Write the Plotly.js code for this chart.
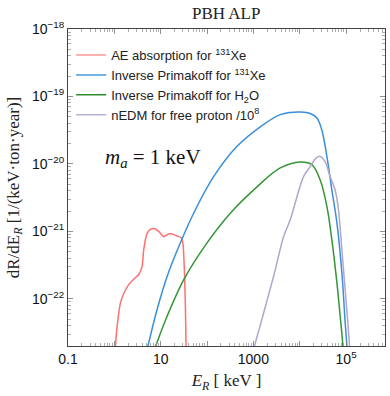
<!DOCTYPE html>
<html>
<head>
<meta charset="utf-8">
<script src="https://cdn.plot.ly/plotly-3.0.1.min.js"></script>
<style>html,body{margin:0;padding:0;background:#fff;}#chart{width:390px;height:396px;}</style>
</head>
<body>
<div id="chart"></div>
<script>
// ---- data (E_R in keV, rate in 1/(keV·ton·year)) ----
const seriesNames = [
  "AE absorption for <sup>131</sup>Xe",
  "Inverse Primakoff for <sup>131</sup>Xe",
  "Inverse Primakoff for H<sub>2</sub>O",
  "nEDM for free proton /10<sup>8</sup>"
];

const aeXeE = [1.03, 1.056, 1.149, 1.354, 1.594, 2.043, 2.618, 3.357, 3.972, 4.305, 5.093, 5.998, 7.063, 9.057, 11.61, 14.86, 17.86, 22.54, 27.54, 30.41, 32.43, 34.04, 35.24, 35.4];
const aeXeR = [8e-24, 1.95e-23, 3.89e-23, 8.71e-23, 1.20e-22, 1.62e-22, 1.95e-22, 2.29e-22, 3.02e-22, 5.37e-22, 9.33e-22, 1.07e-21, 1.10e-21, 1.00e-21, 8.32e-22, 9.12e-22, 9.12e-22, 8.51e-22, 8.13e-22, 6.31e-22, 2.69e-22, 8.13e-23, 1.95e-23, 6.3e-24];

const ipXeE = [3.5, 5.25, 8.36, 13.74, 26.6, 56.0, 138.7, 443.6, 1409, 3802, 6240, 10260, 16900, 23500, 30060, 38550, 49430, 63390, 81100, 95720, 104000, 106700];
const ipXeR = [6.3e-24, 1.95e-23, 6.92e-23, 2.14e-22, 6.76e-22, 2.09e-21, 6.46e-21, 1.82e-20, 3.55e-20, 5.37e-20, 5.8e-20, 5.89e-20, 5.6e-20, 4.79e-20, 3.16e-20, 1.29e-20, 4.07e-21, 1.35e-21, 2.45e-22, 4.37e-23, 1.95e-23, 6.3e-24];

const ipH2OE = [4.1, 7.69, 13.74, 31.3, 100, 317.7, 1197, 3802, 10260, 18320, 27670, 38550, 49430, 63390, 74650, 85310, 87100];
const ipH2OR = [6.3e-24, 1.95e-23, 5.50e-23, 1.91e-22, 6.76e-22, 1.86e-21, 4.57e-21, 8.71e-21, 1.07e-20, 9.77e-21, 5.75e-21, 2.34e-21, 7.41e-22, 1.74e-22, 5.50e-23, 1.95e-23, 6.3e-24];

const nedmE = [661, 1045, 2723, 4477, 6237, 12080, 16830, 22700, 27670, 35480, 45390, 58210, 68550, 81100, 95720, 109400, 118300, 120800];
const nedmR = [6.3e-24, 1.95e-23, 2.14e-22, 8.32e-22, 1.48e-21, 6.46e-21, 9.12e-21, 1.23e-20, 1.29e-20, 1.07e-20, 6.46e-21, 4.07e-21, 2.09e-21, 5.37e-22, 1.35e-22, 4.37e-23, 1.95e-23, 6.3e-24];

const xTickVals = [0.1, 1, 10, 100, 1000, 1e4, 1e5];
const xTickText = ["0.1", "", "10", "", "1000", "", "10<sup>5</sup>"];
const yTickVals = [1e-22, 1e-21, 1e-20, 1e-19, 1e-18];
const yTickText = ["10<sup>\u221222</sup>", "10<sup>\u221221</sup>", "10<sup>\u221220</sup>", "10<sup>\u221219</sup>", "10<sup>\u221218</sup>"];

// ---- styling ----
const lineColors = ["rgb(255,112,112)", "rgb(58,143,218)", "rgb(52,150,52)", "rgb(176,166,206)"];
const legendColors = ["rgb(255,150,150)", "rgb(70,152,222)", "rgb(45,140,45)", "rgb(186,178,214)"];
const smooth = [0.5, 1.0, 1.0, 0.9];

function minorVals(lo, hi) {
  const v = [];
  for (let d = lo; d <= hi; d++) for (let k = 2; k <= 9; k++) v.push(k * Math.pow(10, d));
  return v;
}

const dataSets = [[aeXeE, aeXeR], [ipXeE, ipXeR], [ipH2OE, ipH2OR], [nedmE, nedmR]];
const traces = [];
dataSets.forEach((d, i) => {
  traces.push({x: d[0], y: d[1], type: "scatter", mode: "lines", showlegend: false,
    line: {color: lineColors[i], width: 1.5, shape: "spline", smoothing: smooth[i]}, hoverinfo: "skip"});
});
dataSets.forEach((d, i) => {
  traces.push({x: [null], y: [null], type: "scatter", mode: "lines", name: seriesNames[i],
    line: {color: legendColors[i], width: 1.5}});
});

const axisCommon = {
  type: "log", showline: true, mirror: "allticks", linecolor: "#444", linewidth: 1,
  ticks: "inside", ticklen: 5, tickcolor: "#777", tickwidth: 0.8,
  showgrid: false, zeroline: false, tickmode: "array",
  tickfont: {family: "Liberation Sans, Arial, sans-serif", size: 14, color: "#111"}
};

const layout = {
  width: 390, height: 396,
  margin: {l: 68, r: 5, t: 29, b: 50},
  paper_bgcolor: "#fff", plot_bgcolor: "#fff",
  title: {text: "PBH ALP", x: 0.58, xanchor: "center", y: 0.968, yanchor: "middle",
    font: {family: "Liberation Serif, Times New Roman, serif", size: 17, color: "#222"}},
  xaxis: Object.assign({}, axisCommon, {
    range: [-1, 5.84], tickvals: xTickVals, ticktext: xTickText,
    minor: {ticks: "inside", ticklen: 3, tickcolor: "#999", tickmode: "array", tickvals: minorVals(-1, 5)},
    title: {text: "<i>E<sub>R</sub></i> [ keV ]", standoff: 8,
      font: {family: "Liberation Serif, Times New Roman, serif", size: 17, color: "#222"}}
  }),
  yaxis: Object.assign({}, axisCommon, {
    range: [-22.7, -18], tickvals: yTickVals, ticktext: yTickText,
    minor: {ticks: "inside", ticklen: 3, tickcolor: "#999", tickmode: "array", tickvals: minorVals(-23, -19)},
    title: {text: "dR/dE<sub><i>R</i></sub> [1/(keV\u00b7ton\u00b7year)]", standoff: 8,
      font: {family: "Liberation Serif, Times New Roman, serif", size: 17, color: "#222"}}
  }),
  legend: {x: 0.01, y: 0.965, xanchor: "left", yanchor: "top", bgcolor: "rgba(0,0,0,0)",
    font: {family: "Liberation Sans, Arial, sans-serif", size: 13, color: "#222"},
    tracegroupgap: 0, itemwidth: 30},
  annotations: [{
    xref: "paper", yref: "paper", x: 0.11, y: 0.593, xanchor: "left", yanchor: "middle",
    text: "<i>m<sub>a</sub></i> = 1 keV", showarrow: false,
    font: {family: "Liberation Serif, Times New Roman, serif", size: 21, color: "#111"}
  }]
};

Plotly.newPlot("chart", traces, layout, {displayModeBar: false, staticPlot: true});
</script>
</body>
</html>
